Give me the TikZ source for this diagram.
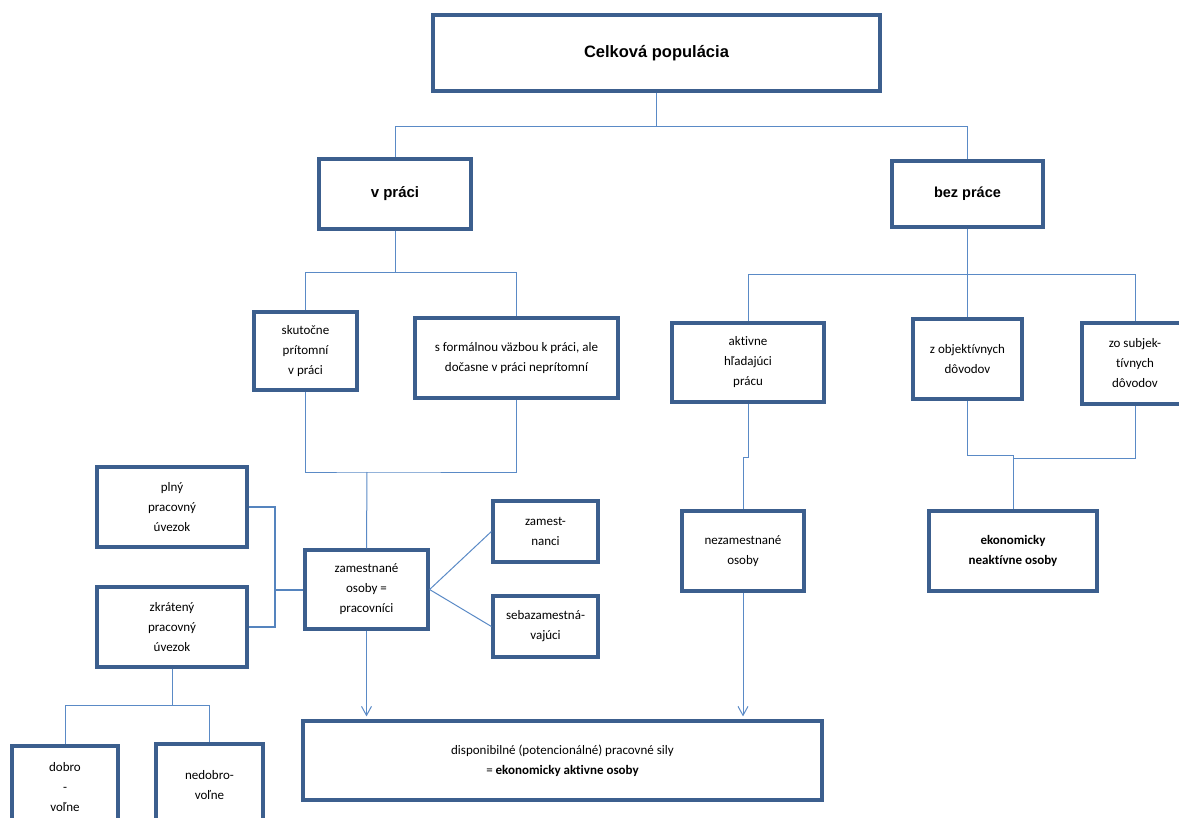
\documentclass[tikz,border=0pt]{standalone}
\usepackage{fontspec}
\setmainfont{Carlito}[Ligatures=NoCommon]
\newfontfamily\headfont{Liberation Sans}
\usetikzlibrary{arrows.meta}
\definecolor{boxblue}{HTML}{3C5F8E}
\definecolor{lineblue}{HTML}{5A8AC6}
\begin{document}
\begin{tikzpicture}[x=1pt,y=-1pt,
  box/.style={draw=boxblue, line width=3.2pt, fill=white, align=center, inner sep=2pt, font=\fontsize{13}{20}\selectfont},
  head/.style={box, font=\headfont\bfseries\fontsize{15}{18}\selectfont},
  link/.style={draw=lineblue, line width=1pt},
  bracket/.style={draw=lineblue!85!boxblue, line width=2pt},
  arrow/.style={link, -{Straight Barb[length=9pt,width=10pt]}}]
\useasboundingbox (0,0) rectangle (1179,818);
\clip (0,0) rectangle (1179,818);
\node[head, minimum width=447pt, minimum height=76pt, font=\headfont\bfseries\fontsize{16.5}{20}\selectfont] (top) at (656.5,53) {Celková populácia};
\node[head, minimum width=152pt, minimum height=70pt] (vpraci) at (395,194) {v práci};
\node[head, minimum width=151pt, minimum height=66pt, font=\headfont\bfseries\fontsize{14.5}{18}\selectfont] (bezprace) at (967.5,194) {bez práce};
\node[box, minimum width=103pt, minimum height=78pt] (skut) at (305.5,351) {skutočne\\prítomní\\v práci};
\node[box, minimum width=203pt, minimum height=80pt] (formal) at (516.5,358) {s formálnou väzbou k práci, ale\\dočasne v práci neprítomní};
\node[box, minimum width=152pt, minimum height=79pt] (aktivne) at (748,362.5) {aktivne\\hľadajúci\\prácu};
\node[box, minimum width=109pt, minimum height=80pt] (zobj) at (967.5,359) {z objektívnych\\dôvodov};
\node[box, minimum width=106pt, minimum height=81pt] (zosub) at (1135,363.5) {zo subjek-\\tívnych\\dôvodov};
\node[box, minimum width=150pt, minimum height=80pt] (plny) at (172,507) {plný\\pracovný\\úvezok};
\node[box, minimum width=150pt, minimum height=80pt] (zkrat) at (172,627) {zkrátený\\pracovný\\úvezok};
\node[box, minimum width=123pt, minimum height=79pt] (zam) at (366.5,589.5) {zamestnané\\osoby =\\pracovníci};
\node[box, minimum width=105pt, minimum height=61pt] (zamnanci) at (545.5,531.5) {zamest-\\nanci};
\node[box, minimum width=105pt, minimum height=61pt] (sebazam) at (545.5,626.5) {sebazamestná-\\vajúci};
\node[box, minimum width=122pt, minimum height=80pt] (nezam) at (743,551) {nezamestnané\\osoby};
\node[box, minimum width=168pt, minimum height=80pt, font=\bfseries\fontsize{13}{20}\selectfont] (neakt) at (1013,551) {ekonomicky\\neaktívne osoby};
\node[box, minimum width=519pt, minimum height=79pt] (dispo) at (562.5,760.5) {disponibilné (potencionálné) pracovné sily\\= \textbf{ekonomicky aktivne osoby}};
\node[box, minimum width=106pt, minimum height=82pt] (dobro) at (65,787) {dobro\\-\\voľne};
\node[box, minimum width=107pt, minimum height=83pt] (nedobro) at (209.5,785.5) {nedobro-\\voľne};
\coordinate (jpraca) at (367,472);
\coordinate (jzam) at (275,589.5);
\draw[link] (top.south) -- ++(0,34) -| (vpraci.north);
\draw[link] (top.south) -- ++(0,34) -| (bezprace.north);
\draw[link] (vpraci.south) -- ++(0,42) -| (skut.north);
\draw[link] (vpraci.south) -- ++(0,42) -| (formal.north);
\draw[link] (bezprace.south) -- ++(0,46) -| (aktivne.north);
\draw[link] (bezprace.south) -- ++(0,46) -| (zobj.north);
\draw[link] (bezprace.south) -- ++(0,46) -| (zosub.north);
\draw[link] (skut.south) |- (jpraca) -| (formal.south);
\draw[link] (jpraca) -- (zam.north);
\draw[bracket] (plny.east) -| (jzam) |- (zkrat.east);
\draw[bracket] (jzam) -- (zam.west);
\draw[link] (zam.east) -- (zamnanci.west);
\draw[link] (zam.east) -- (sebazam.west);
\draw[arrow] (zam.south) -- ([yshift=3pt]zam.south |- dispo.north);
\draw[link] (aktivne.south) -- ++(0,54) -| (nezam.north);
\draw[arrow] (nezam.south) -- ([yshift=3pt]nezam.south |- dispo.north);
\draw[link] (zobj.south) -- ++(0,55) -| (neakt.north);
\draw[link] (zosub.south) -- ++(0,53) -| (neakt.north);
\draw[link] (zkrat.south) -- ++(0,37) -| (dobro.north);
\draw[link] (zkrat.south) -- ++(0,37) -| (nedobro.north);
\end{tikzpicture}
\end{document}
